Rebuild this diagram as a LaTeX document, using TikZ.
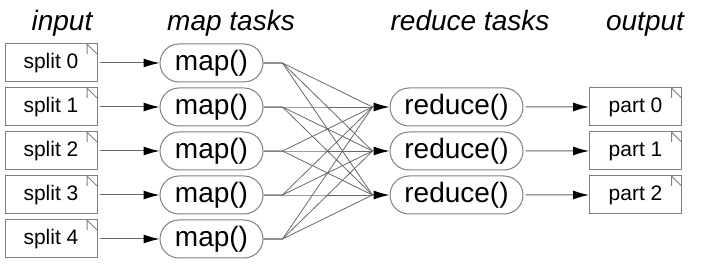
\documentclass[tikz,border=0pt]{standalone}
\usepackage{fontspec}
\setmainfont{Liberation Sans}
\usetikzlibrary{arrows.meta,positioning,shapes.misc}
\definecolor{mrgray}{RGB}{128,128,128}
\definecolor{mrline}{RGB}{105,105,105}
\tikzset{
  filebox/.style={draw=mrgray, line width=1pt, fill=white,
                  font=\fontsize{21}{24}\selectfont,
                  minimum width=92pt, minimum height=38pt, inner sep=0pt,
                  path picture={\draw[mrgray, line width=1pt]
                    ([xshift=-10pt]path picture bounding box.north east) -- ++(0pt,-10pt)
                    ([xshift=-10pt]path picture bounding box.north east) --
                    ([yshift=-10pt]path picture bounding box.north east);}},
  taskbox/.style={draw=mrgray, line width=1pt, rounded rectangle,
                  font=\fontsize{28}{32}\selectfont,
                  minimum width=#1, minimum height=38pt, inner sep=0pt},
  header/.style={font=\fontsize{28}{32}\selectfont\itshape, anchor=base, inner sep=0pt},
  flow/.style={draw=mrline, line width=1pt, shorten <=2pt,
               -{Latex[length=16pt, width=9pt, color=black]}},
  fan/.style={draw=mrline, line width=0.8pt},
}
\begin{document}
\begin{tikzpicture}[x=1pt, y=-1pt]
  \useasboundingbox (0,0) rectangle (701,264);

  % Column headers
  \node[header] (hinput)  at (62,31)  {input};
  \node[header] (hmap)    at (231,31) {map tasks};
  \node[header] (hreduce) at (470,31) {reduce tasks};
  \node[header] (houtput) at (645,31) {output};

  % Input splits
  \node[filebox] (split0) at (51,63)  {split 0};
  \node[filebox] (split1) at (51,107) {split 1};
  \node[filebox] (split2) at (51,151) {split 2};
  \node[filebox] (split3) at (51,195) {split 3};
  \node[filebox] (split4) at (51,239) {split 4};

  % Map tasks
  \node[taskbox=103pt] (map0) at (211.5,63)  {map()};
  \node[taskbox=103pt] (map1) at (211.5,107) {map()};
  \node[taskbox=103pt] (map2) at (211.5,151) {map()};
  \node[taskbox=103pt] (map3) at (211.5,195) {map()};
  \node[taskbox=103pt] (map4) at (211.5,239) {map()};

  % Reduce tasks
  \node[taskbox=133pt] (red0) at (456.5,107) {reduce()};
  \node[taskbox=133pt] (red1) at (456.5,151) {reduce()};
  \node[taskbox=133pt] (red2) at (456.5,195) {reduce()};

  % Output parts
  \node[filebox] (part0) at (635.5,107) {part 0};
  \node[filebox] (part1) at (635.5,151) {part 1};
  \node[filebox] (part2) at (635.5,195) {part 2};

  % Split -> map
  \draw[flow] (split0) -- (map0);
  \draw[flow] (split1) -- (map1);
  \draw[flow] (split2) -- (map2);
  \draw[flow] (split3) -- (map3);
  \draw[flow] (split4) -- (map4);

  % Shuffle: every map feeds every reduce
  \foreach \i in {0,...,4}
    \coordinate (mout\i) at ([xshift=19pt]map\i.east);
  \foreach \j in {0,1,2}
    \coordinate (rin\j) at ([xshift=-17pt]red\j.west);
  \foreach \i in {0,...,4}
    \foreach \j in {0,1,2}
      \draw[fan] (map\i.east) -- (mout\i) -- (rin\j);
  \foreach \j in {0,1,2}
    \draw[flow, shorten <=0pt] (rin\j) -- (red\j.west);

  % Reduce -> output
  \draw[flow] (red0) -- (part0);
  \draw[flow] (red1) -- (part1);
  \draw[flow] (red2) -- (part2);

\end{tikzpicture}
\end{document}
